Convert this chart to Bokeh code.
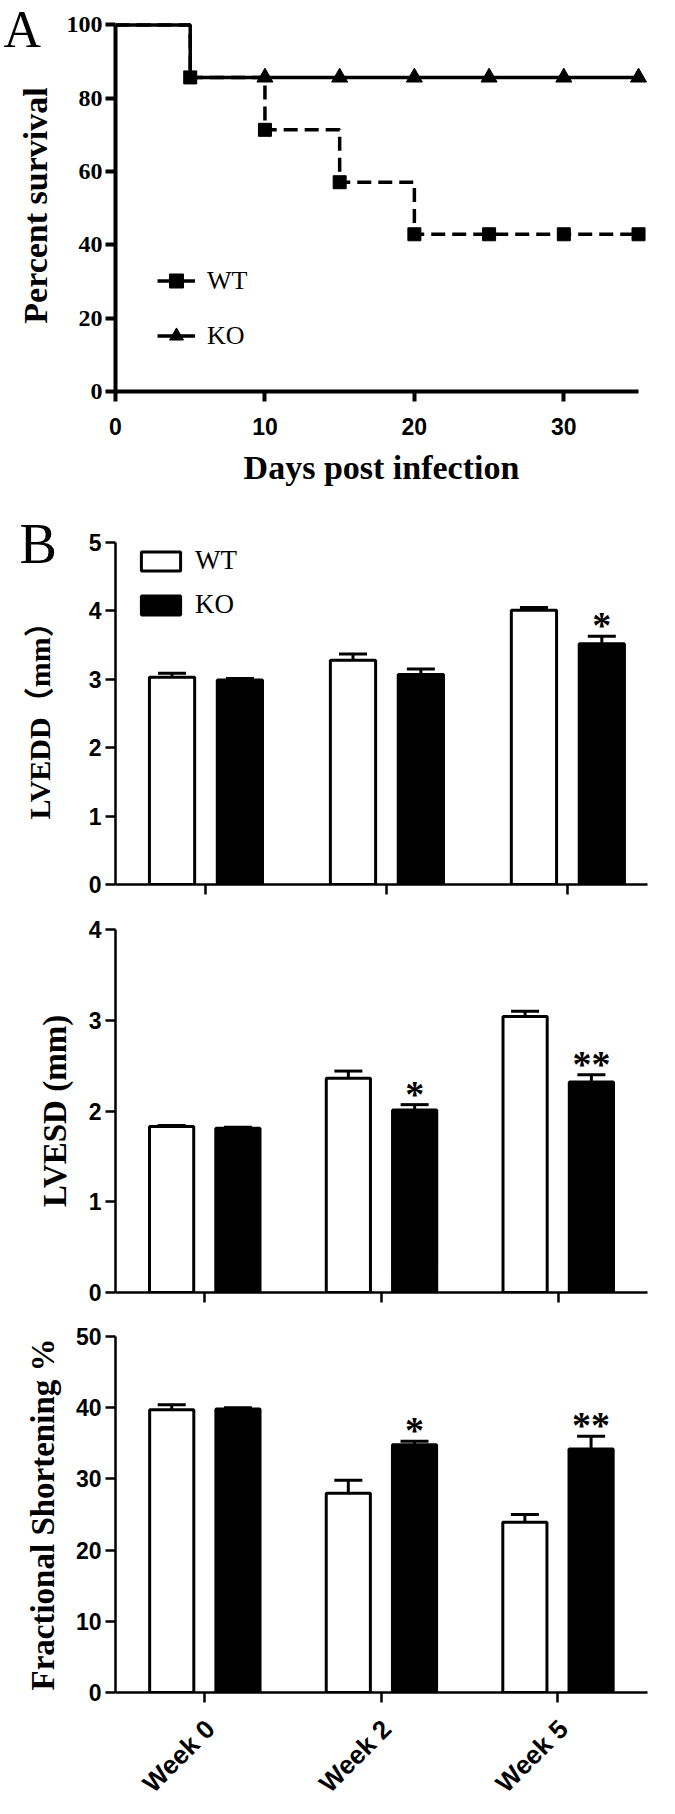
import math
from bokeh.plotting import figure
from bokeh.layouts import column
from bokeh.models import (Range1d, FixedTicker, Legend, LegendItem, Whisker,
                          TeeHead, ColumnDataSource)
from bokeh.core.properties import value
from bokeh.embed import file_html
from bokeh.resources import INLINE

# ---------------- data ----------------
days = [0, 5, 10, 15, 20, 25, 30, 35]
wt_survival = [100, 85.7, 71.4, 57.1, 42.9, 42.9, 42.9, 42.9]
ko_survival = [100, 85.7, 85.7, 85.7, 85.7, 85.7, 85.7, 85.7]
survival_x_ticks = [0, 10, 20, 30]
survival_y_ticks = [0, 20, 40, 60, 80, 100]

weeks = ["Week 0", "Week 2", "Week 5"]

lvedd_wt = [3.03, 3.28, 4.01]
lvedd_wt_sem = [0.06, 0.09, 0.04]
lvedd_ko = [2.99, 3.07, 3.52]
lvedd_ko_sem = [0.02, 0.08, 0.11]
lvedd_sig = ["", "", "*"]
lvedd_ticks = [0, 1, 2, 3, 4, 5]

lvesd_wt = [1.83, 2.36, 3.04]
lvesd_wt_sem = [0.01, 0.08, 0.06]
lvesd_ko = [1.81, 2.01, 2.32]
lvesd_ko_sem = [0.01, 0.06, 0.08]
lvesd_sig = ["", "*", "**"]
lvesd_ticks = [0, 1, 2, 3, 4]

fs_wt = [39.7, 28.0, 23.9]
fs_wt_sem = [0.7, 1.8, 1.1]
fs_ko = [39.8, 34.8, 34.2]
fs_ko_sem = [0.2, 0.5, 1.8]
fs_sig = ["", "*", "**"]
fs_ticks = [0, 10, 20, 30, 40, 50]

# ---------------- styling constants ----------------
W = 659
SERIF = "Liberation Serif"
SANS = "Liberation Sans"
OFF = 0.1875      # bar offset from category centre
BAR_W = 0.25


def make_fig(height, xr, yr, left, right, top, bottom, axes=True):
    kw = {} if axes else dict(x_axis_type=None, y_axis_type=None)
    p = figure(width=W, height=height, x_range=Range1d(*xr), y_range=Range1d(*yr),
               output_backend="svg", toolbar_location=None, tools="",
               min_border_left=left, min_border_right=right,
               min_border_top=top, min_border_bottom=bottom, **kw)
    p.grid.visible = False
    p.outline_line_color = None
    p.background_fill_color = "white"
    p.border_fill_color = "white"
    if axes:
        for ax in (p.xaxis[0], p.yaxis[0]):
            ax.minor_tick_line_color = None
            ax.major_tick_in = 0
            ax.axis_line_color = "black"
            ax.major_tick_line_color = "black"
            ax.major_label_text_color = "black"
            ax.axis_label_text_color = "black"
    return p


def panel_letter(p, letter, size, offset, standoff):
    p.title.text = letter
    p.title.text_font = SERIF
    p.title.text_font_style = "normal"
    p.title.text_font_size = size
    p.title.text_color = "black"
    p.title.align = "left"
    p.title.vertical_align = "bottom"
    p.title.offset = offset
    p.title.standoff = standoff


# ================= Panel A : survival =================
A_H, A_L, A_R, A_T = 500, 115, 6, 19
A_B = A_H - A_T - 372
A_XR, A_YR = (0, 35.6), (0, 101.5)
pA = make_fig(A_H, A_XR, A_YR, A_L, A_R, A_T, A_B)

for ax in (pA.xaxis[0], pA.yaxis[0]):
    ax.axis_line_width = 4
    ax.major_tick_line_width = 4
    ax.major_tick_out = 10
pA.xaxis.bounds = (0, 35)
pA.yaxis.bounds = (0, 100)
pA.xaxis.ticker = FixedTicker(ticks=survival_x_ticks)
pA.yaxis.ticker = FixedTicker(ticks=survival_y_ticks)
pA.yaxis.major_label_text_font = SERIF
pA.yaxis.major_label_text_font_style = "bold"
pA.yaxis.major_label_text_font_size = "24px"
pA.yaxis.major_label_standoff = 3
pA.xaxis.major_label_text_font = SANS
pA.xaxis.major_label_text_font_style = "bold"
pA.xaxis.major_label_text_font_size = "23px"
pA.xaxis.major_label_standoff = 16
pA.yaxis.axis_label = "Percent survival"
pA.xaxis.axis_label = "Days post infection"
for ax, st in ((pA.xaxis[0], 11), (pA.yaxis[0], 10)):
    ax.axis_label_text_font = SERIF
    ax.axis_label_text_font_style = "bold"
    ax.axis_label_text_font_size = "34px"
    ax.axis_label_standoff = st

wt_line = pA.step(x=days, y=wt_survival, mode="after", line_width=3.5,
                  line_color="black", line_dash="14 7")
ko_line = pA.step(x=days, y=ko_survival, mode="after", line_width=3.5,
                  line_color="black")
ko_pts = pA.scatter(x=days[2:], y=ko_survival[2:], marker="triangle", size=16,
                    fill_color="black", line_color="black")
wt_pts = pA.scatter(x=days[1:], y=wt_survival[1:], marker="square", size=13,
                    fill_color="black", line_color="black")

legA = Legend(items=[LegendItem(label="WT", renderers=[ko_line, wt_pts]),
                     LegendItem(label="KO", renderers=[ko_line, ko_pts])],
              location=(42, 38), glyph_width=38, glyph_height=35, spacing=20,
              label_standoff=12, padding=0, margin=0, border_line_color=None,
              background_fill_alpha=0, label_text_font=SERIF,
              label_text_font_size="26px", label_text_color="black")
pA.add_layout(legA)
panel_letter(pA, "A", "52px", 3 - A_L, -77)


# ================= bar panels =================
def bar_panel(height, xr, yr, left, right, top, bottom, wt, wt_sem, ko, ko_sem, sig,
              yticks, ylabel, ylabel_size, ylabel_standoff):
    p = make_fig(height, xr, yr, left, right, top, bottom)
    for ax in (p.xaxis[0], p.yaxis[0]):
        ax.axis_line_width = 2.5
        ax.major_tick_line_width = 2.5
        ax.major_tick_out = 10
    p.yaxis.ticker = FixedTicker(ticks=yticks)
    p.yaxis.major_label_text_font = SANS
    p.yaxis.major_label_text_font_style = "bold"
    p.yaxis.major_label_text_font_size = "23px"
    p.yaxis.major_label_standoff = 4
    p.yaxis.axis_label = ylabel
    p.yaxis.axis_label_text_font = SERIF + ", Noto Sans CJK SC"
    p.yaxis.axis_label_text_font_style = "bold"
    p.yaxis.axis_label_text_font_size = ylabel_size
    p.yaxis.axis_label_standoff = ylabel_standoff

    idx = list(range(len(weeks)))
    p.xaxis.ticker = FixedTicker(ticks=idx)
    p.xaxis.major_label_overrides = {i: "" for i in idx}
    p.xaxis.major_label_text_font_size = "0px"
    p.xaxis.major_label_standoff = 0

    x_wt = [i - OFF for i in idx]
    x_ko = [i + OFF for i in idx]
    src_wt = ColumnDataSource(dict(x=x_wt, top=wt, upper=[v + e for v, e in zip(wt, wt_sem)]))
    src_ko = ColumnDataSource(dict(x=x_ko, top=ko, upper=[v + e for v, e in zip(ko, ko_sem)],
                                   sig=sig))
    for src in (src_wt, src_ko):
        p.add_layout(Whisker(source=src, base="x", upper="upper", lower="top",
                             dimension="height", line_width=3, line_color="black",
                             upper_head=TeeHead(size=28, line_width=3, line_color="black"),
                             lower_head=None))
    r_wt = p.vbar(x="x", top="top", width=BAR_W, bottom=0, source=src_wt,
                  fill_color="white", line_color="black", line_width=3)
    r_ko = p.vbar(x="x", top="top", width=BAR_W, bottom=0, source=src_ko,
                  fill_color="black", line_color="black", line_width=3)
    p.text(x="x", y="upper", text="sig", source=src_ko, text_font=value(SERIF),
           text_font_size="38px", text_font_style="bold", text_align="center",
           text_baseline="alphabetic", y_offset=-11, text_color="black")
    return p, r_wt, r_ko


B1_H, B1_L, B1_R, B1_T, B1_B = 412, 103, 12, 42, 28
pB1, b1_wt, b1_ko = bar_panel(
    B1_H, (-0.5, 2.44), (0, 5), B1_L, B1_R, B1_T, B1_B,
    lvedd_wt, lvedd_wt_sem, lvedd_ko, lvedd_ko_sem, lvedd_sig, lvedd_ticks,
    "LVEDD\uff08mm\uff09", "30px", 30)

legB = Legend(items=[LegendItem(label="WT", renderers=[b1_wt]),
                     LegendItem(label="KO", renderers=[b1_ko])],
              location=(21, 264), glyph_width=49, glyph_height=24, spacing=13,
              label_standoff=10, padding=0, margin=0, border_line_color=None,
              background_fill_alpha=0, label_text_font=SERIF,
              label_text_font_size="27px", label_text_color="black")
pB1.add_layout(legB)
panel_letter(pB1, "B", "56px", 7 - B1_L, -64)

B2_H, B2_L, B2_R, B2_T, B2_B = 406, 105, 0, 17, 26
pB2, _, _ = bar_panel(
    B2_H, (-0.505, 2.505), (0, 4), B2_L, B2_R, B2_T, B2_B,
    lvesd_wt, lvesd_wt_sem, lvesd_ko, lvesd_ko_sem, lvesd_sig, lvesd_ticks,
    "LVESD (mm)", "33px", 13)

B3_H, B3_L, B3_R, B3_T, B3_B = 388, 108, 0, 18, 14
B3_XR = (-0.506, 2.507)
pB3, _, _ = bar_panel(
    B3_H, B3_XR, (0, 50), B3_L, B3_R, B3_T, B3_B,
    fs_wt, fs_wt_sem, fs_ko, fs_ko_sem, fs_sig, fs_ticks,
    "Fractional Shortening %", "33px", 12)

# category labels under the last panel (rotated 45 degrees, ending at each tick)
WK_H = 92
pW = make_fig(WK_H, B3_XR, (WK_H, 0), B3_L, B3_R, 0, 0, axes=False)
pW.text(x=[i + 0.03 for i in range(len(weeks))], y=[18] * len(weeks), text=weeks,
        angle=math.pi / 4, text_align="right", text_baseline="middle",
        text_font=value(SANS), text_font_style="bold", text_font_size="26px",
        text_color="black")

layout = column(pA, pB1, pB2, pB3, pW, spacing=0)
open("out.html", "w").write(file_html(layout, INLINE))
